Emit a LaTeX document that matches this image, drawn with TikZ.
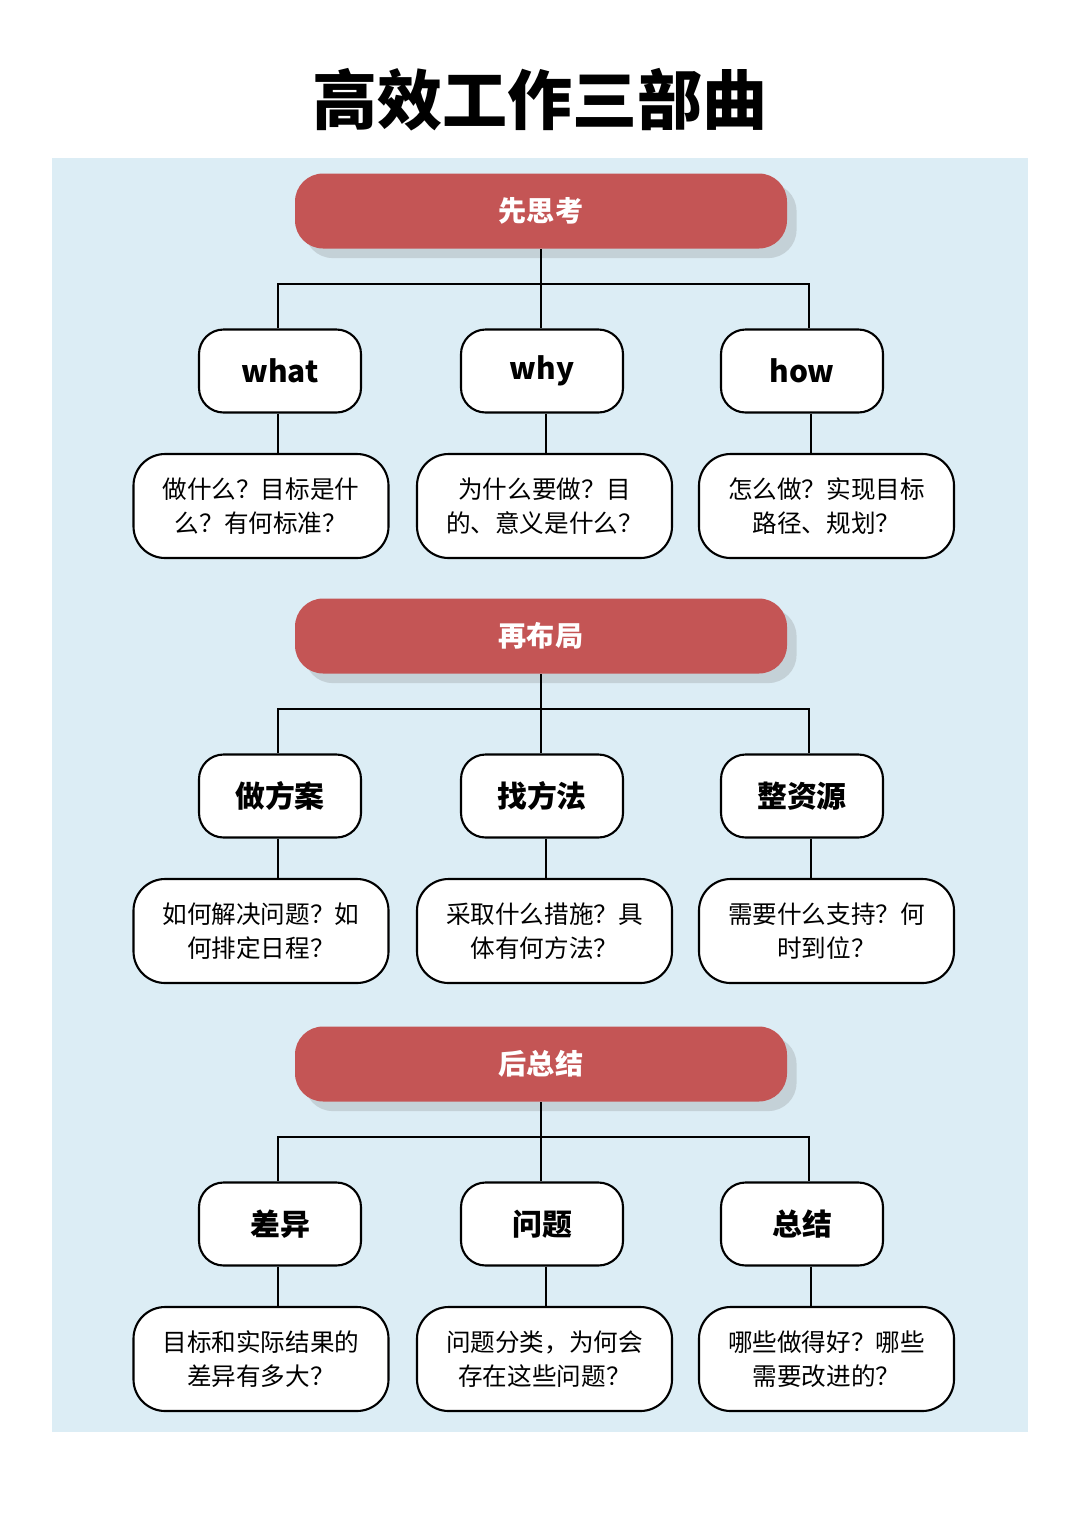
\documentclass[tikz,border=0pt]{standalone}
\usepackage{fontspec}
\setmainfont{Noto Sans CJK SC}
\usetikzlibrary{shadows}
\definecolor{bgblue}{HTML}{DCEDF5}
\definecolor{headred}{HTML}{C45555}
\tikzset{
  head/.style={fill=headred,rounded corners=8pt,minimum width=4.92cm,minimum height=0.75cm,
    text=white,font=\fontsize{8}{10}\selectfont\bfseries,drop shadow={opacity=0.25}},
  key/.style={draw,fill=white,rounded corners=7pt,minimum width=1.62cm,minimum height=0.83cm,
    font=\fontsize{8.5}{10}\selectfont\bfseries,line width=0.6pt},
  note/.style={draw,fill=white,rounded corners=9pt,minimum width=2.55cm,minimum height=1.04cm,
    align=center,font=\fontsize{7}{9.6}\selectfont,line width=0.6pt},
  link/.style={line width=0.5pt}
}
\begin{document}
\begin{tikzpicture}
  \useasboundingbox (0,0) rectangle (10.8,-15.29);
  \fill[bgblue] (0.52,-1.58) rectangle (10.28,-14.32);
  \node[font=\fontsize{18.5}{20}\selectfont\bfseries] (title) at (5.4,-1.0) {高效工作三部曲};

  \foreach \y/\h/\ka/\kb/\kc/\na/\nb/\nc [count=\s] in {
    0/先思考/what/why/how/{做什么？目标是什\\么？有何标准？}/{为什么要做？目\\的、意义是什么？}/{怎么做？实现目标\\路径、规划？},
    4.25/再布局/做方案/找方法/整资源/{如何解决问题？如\\何排定日程？}/{采取什么措施？具\\体有何方法？}/{需要什么支持？何\\时到位？},
    8.53/后总结/差异/问题/总结/{目标和实际结果的\\差异有多大？}/{问题分类，为何会\\存在这些问题？}/{哪些做得好？哪些\\需要改进的？}}
  {
    \node[head] (h\s) at (5.41,-2.11-\y) {\h};
    \node[key] (k\s a) at (2.80,-3.71-\y) {\ka};
    \node[key] (k\s b) at (5.42,-3.71-\y) {\kb};
    \node[key] (k\s c) at (8.02,-3.71-\y) {\kc};
    \node[note] (n\s a) at (2.61,-5.06-\y) {\na};
    \node[note] (n\s b) at (5.445,-5.06-\y) {\nb};
    \node[note] (n\s c) at (8.265,-5.06-\y) {\nc};
    \draw[link] (h\s.south) -- ++(0,-0.35) -| ([xshift=-0.02cm]k\s a.north);
    \draw[link] (h\s.south) -- ++(0,-0.35) -| ([xshift=0.07cm]k\s c.north);
    \draw[link] (h\s.south) -- ([xshift=-0.01cm]k\s b.north);
    \draw[link] ([xshift=-0.02cm]k\s a.south) -- ([xshift=-0.02cm]k\s a.south |- n\s a.north);
    \draw[link] ([xshift=0.04cm]k\s b.south) -- ([xshift=0.04cm]k\s b.south |- n\s b.north);
    \draw[link] ([xshift=0.09cm]k\s c.south) -- ([xshift=0.09cm]k\s c.south |- n\s c.north);
  }
\end{tikzpicture}
\end{document}
